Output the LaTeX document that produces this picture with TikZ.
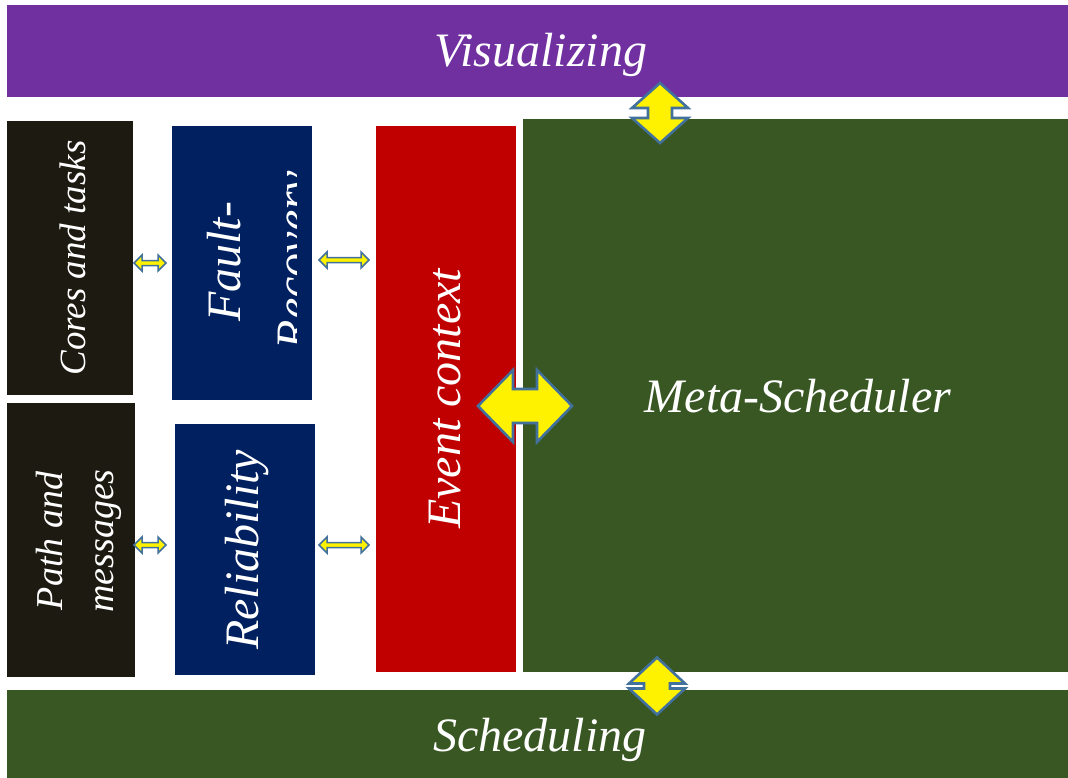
\documentclass[tikz,border=0pt]{standalone}
\usepackage{fontspec}
\setmainfont{Liberation Serif}
\definecolor{vpurple}{HTML}{7030A0}
\definecolor{dgreen}{HTML}{385723}
\definecolor{dbrown}{HTML}{1D1B11}
\definecolor{navyblue}{HTML}{002060}
\definecolor{dred}{HTML}{C00000}
\definecolor{aline}{HTML}{41719C}
\tikzset{
  box/.style={draw=none, inner sep=0pt, outer sep=0pt, anchor=north west},
  lbl/.style={text=white, inner sep=0pt, font=\itshape\fontsize{48}{56}\selectfont},
  midlbl/.style={text=white, inner sep=0pt, font=\itshape\fontsize{38}{46}\selectfont},
  blockarrow/.style={draw=aline, fill=yellow, line width=1.5pt, line join=miter},
  bigarrow/.style={line width=2.6pt},
}
% #1 extra style, #2 centre, #3 rotation, #4 half length, #5 half width, #6 half shaft, #7 head length
\newcommand{\DArrow}[7][]{%
  \begin{scope}[shift={(#2)}, rotate=#3]
    \draw[blockarrow,#1] (-#4,0) -- ({-#4+#7},{-#5}) -- ({-#4+#7},{-#6}) -- ({#4-#7},{-#6})
      -- ({#4-#7},{-#5}) -- (#4,0) -- ({#4-#7},{#5}) -- ({#4-#7},{#6})
      -- ({-#4+#7},{#6}) -- ({-#4+#7},{#5}) -- cycle;
  \end{scope}}
\begin{document}
\begin{tikzpicture}[x=1pt,y=-1pt]
\useasboundingbox (0,0) rectangle (1068,778);
\fill[white] (0,0) rectangle (1068,778);

% boxes
\node[box, fill=vpurple,  minimum width=1061, minimum height=92]  (vis)   at (7,5)    {};
\node[box, fill=dbrown,   minimum width=126,  minimum height=274] (cores) at (7,121)  {};
\node[box, fill=dbrown,   minimum width=128,  minimum height=274] (path)  at (7,403)  {};
\node[box, fill=navyblue, minimum width=140,  minimum height=274] (fault) at (172,126) {};
\node[box, fill=navyblue, minimum width=140,  minimum height=251] (rel)   at (175,424) {};
\node[box, fill=dred,     minimum width=140,  minimum height=546] (event) at (376,126) {};
\node[box, fill=dgreen,   minimum width=545,  minimum height=553] (meta)  at (523,119) {};
\node[box, fill=dgreen,   minimum width=1061, minimum height=88]  (sched) at (7,690)  {};

% labels
\node[lbl, anchor=base] (vist) at (541,67) {Visualizing};
\node[lbl, anchor=base] (schedt) at (540,751) {Scheduling};
\node[lbl, anchor=base] (metat) at (798,412) {Meta-Scheduler};
\node[lbl, anchor=base, rotate=90] (eventt) at (460,399) {Event context};
\node[lbl, anchor=base, rotate=90] (relt) at (258,550) {Reliability};
\node[midlbl, font=\itshape\fontsize{37}{44}\selectfont, anchor=base, rotate=90] (corest) at (85,258) {Cores and tasks};
\node[midlbl, anchor=base, rotate=90] (patht1) at (62,541) {Path and};
\node[midlbl, anchor=base, rotate=90] (patht2) at (113,541) {messages};
\begin{scope}
  \clip (172,126) rectangle (296,400);
  \node[lbl, anchor=base, rotate=90] (faultt1) at (240,262) {Fault-};
  \node[lbl, anchor=base, rotate=90] (faultt2) at (309,260) {Recovery};
\end{scope}

% arrow positions
\coordinate (a1) at (150,263);
\coordinate (a2) at (344,260);
\coordinate (a3) at (150,545);
\coordinate (a4) at (344,545);
\coordinate (a5) at (525,406);
\coordinate (a6) at (660,113);
\coordinate (a7) at (657,686);

\DArrow{a1}{0}{16}{8}{2.5}{8}
\DArrow{a2}{0}{25}{8}{2.5}{8}
\DArrow{a3}{0}{16}{8}{2.5}{8}
\DArrow{a4}{0}{25}{8}{2.5}{8}
\DArrow[bigarrow]{a5}{0}{47}{36}{17}{35}
\DArrow[bigarrow]{a6}{90}{30}{28}{12}{25}
\DArrow[bigarrow]{a7}{90}{28.5}{28}{13}{26}
\end{tikzpicture}
\end{document}
